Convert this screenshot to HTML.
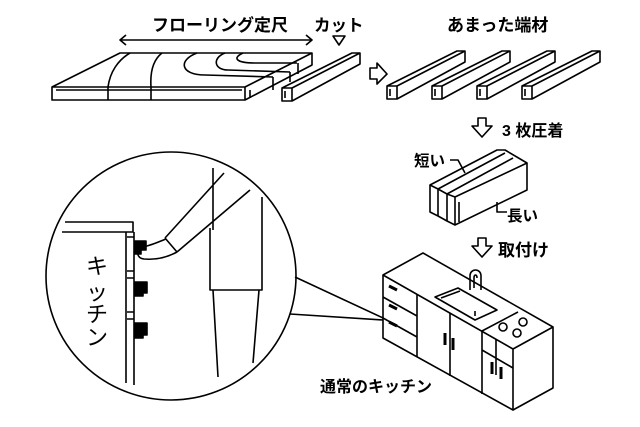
<!DOCTYPE html>
<html><head><meta charset="utf-8"><style>
html,body{margin:0;padding:0;background:#fff}
svg{display:block}
text{font-family:"Liberation Sans","Noto Sans CJK JP",sans-serif;font-weight:bold;fill:#000}
text.k{font-weight:normal}
</style></head><body>
<svg width="640" height="427" viewBox="0 0 640 427" xmlns="http://www.w3.org/2000/svg" fill="none" stroke="#000" stroke-width="1.6" stroke-linejoin="round">
<g stroke="none">
<text x="152" y="31" font-size="17">フローリング定尺</text>
<text x="314" y="31" font-size="16.5">カット</text>
<text x="447" y="31" font-size="17">あまった端材</text>
<text x="502" y="136" font-size="16">3 枚圧着</text>
<text x="414" y="166" font-size="15.5">短い</text>
<text x="507" y="221" font-size="15.5">長い</text>
<text x="498" y="256" font-size="17">取付け</text>
<text x="320" y="392" font-size="16">通常のキッチン</text>
<text class="k" x="86" y="274" font-size="22">キ</text>
<text class="k" x="86" y="300" font-size="22">ッ</text>
<text class="k" x="86" y="322" font-size="22">チ</text>
<text class="k" x="86" y="345" font-size="22">ン</text>
</g>
<path d="M120 40 H312 M126 35 L120 40 L126 45 M306 35 L312 40 L306 45"/>
<path d="M333 36 H345 L339 45 Z"/>
<!-- board -->
<path d="M52 87 L120 53 H312 V65 L245 100 H52 Z M52 87 H245 V100 M245 87 L312 53"/>
<path d="M108 87 V100 M151 87 V100 M56 90 H242 M250 90 V98"/>
<path d="M108 87 C110 72 118 60 130 53 M151 87 C150 72 153 60 162 53 M197 53 C178 60 180 75 205 75 L273 77 M225 53 C212 58 214 70 228 70 L290 72 M243 53 C232 58 236 63 255 63 L297 63 M273 77 V90 M290 72 V82 M298 63 V74"/>
<!-- strips -->
<g id="s"><path d="M282 88 L352 53 H360 V64 L292 101 H282 Z M282 88 H292 L360 53 M292 88 V101 M285 91 V98"/></g>
<use href="#s" transform="translate(105,-2)"/>
<use href="#s" transform="translate(150,-2)"/>
<use href="#s" transform="translate(195,-2)"/>
<use href="#s" transform="translate(240,-2)"/>
<path d="M370 68 H377 V63 L387 74 L377 84 V79 H370 Z"/>
<path d="M478 118 V126 H472 L482 137 L492 126 H486 V118 Z"/>
<path d="M478 238 V246 H472 L482 257 L492 246 H486 V238 Z"/>
<!-- block -->
<path d="M430 185 L497 150 H505 L527 163 V190 L455 225 L447 221 L438 216 L430 212 Z"/>
<path d="M430 185 L438 189 L505 153 M438 189 L447 194 L513 158 M447 194 L455 197 L527 163 M438 189 V216 M447 194 V221 M455 197 V225 M459 202 V222"/>
<path d="M450 160 H458 L465 173 M497 202 V212 H507"/>
<!-- circle -->
<ellipse cx="171" cy="276" rx="125" ry="124"/>
<path d="M295 277 L383 318 M290 314 L383 320"/>
<path d="M65 222 H133 V232 H62 M126 232 V383 M134 232 V385 M127 237 H134 V271 H127 M127 278 H134 V312 H127 M127 319 H134"/>
<path d="M213 168 V230 M224 173 L165 238 M250 190 L177 252 M165 238 L177 252 M262 197 V290 H210 V228 M213 290 L218 377 M259 290 L253 363"/>
<path d="M166 239 C158 242 150 246 142 247 C136 250 136 258 144 259 C155 260 166 258 177 252"/>
<path d="M135 241 H146 V250 H141 V254 H135 Z M135 282 H147 V293 H143 V296 H135 Z M135 323 H147 V335 H143 V338 H135 Z" fill="#000"/>
<!-- kitchen -->
<path d="M383 275 L423 253 L553 327 L513 349 Z M383 275 V338 L513 410 V349 M513 410 L553 388 V327"/>
<path d="M417 294 V357 M450 313 V376 M482 331 V394 M383 297 L417 316 M383 318 L417 337 M482 350 L513 368 M496 339 V375 M482 350 L513 368"/>
<path d="M482 331 L518 312"/>
<path d="M435 297 L458 288 L497 310 L475 320 Z M441 298 L460 291 M475 311 V316"/>
<path d="M470 290 V276 C470 268 481 268 481 276 V290 M474 288 V278 C474 274 477 274 477 278"/>
<circle cx="503" cy="327" r="4"/><circle cx="523" cy="322" r="4"/><circle cx="517" cy="333" r="4"/>
<path d="M389 286 L397 290 M389 305 L397 309 M389 322 L397 326 M445 333 V345 M453 338 V350 M492 362 V374 M501 367 V379" stroke-width="3"/>
</svg>
</body></html>
